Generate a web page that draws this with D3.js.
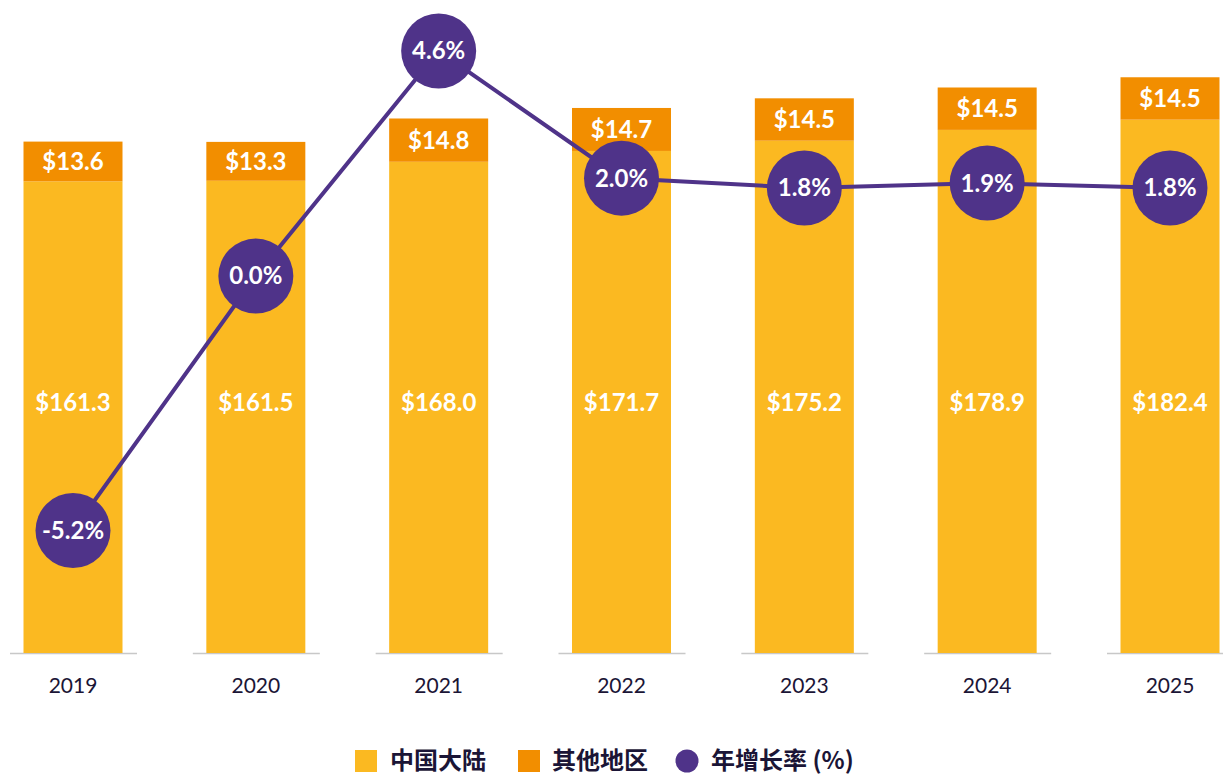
<!DOCTYPE html>
<html>
<head>
<meta charset="utf-8">
<script src="https://cdn.jsdelivr.net/npm/d3@7"></script>
<style>
  body { margin: 0; background: #fff; }
  svg { display: block; font-family: Lato, "Noto Sans", "Noto Sans CJK SC", sans-serif; }
</style>
</head>
<body>
<svg id="chart" width="1223" height="776"></svg>
<script>
// Data
const years = ['2019', '2020', '2021', '2022', '2023', '2024', '2025'];
const mainland = [161.3, 161.5, 168.0, 171.7, 175.2, 178.9, 182.4];
const others = [13.6, 13.3, 14.8, 14.7, 14.5, 14.5, 14.5];
const growth = [-5.2, 0.0, 4.6, 2.0, 1.8, 1.9, 1.8];
const legendLabels = ['中国大陆', '其他地区', '年增长率 (%)'];

const colors = { mainland: '#FBB921', others: '#F28E00', growth: '#4F3389', text: '#1B1536' };

const svg = d3.select('#chart');
const baseY = 653;

const x = d3.scalePoint().domain(years).range([73, 1170]);
const y = d3.scaleLinear().domain([0, 200]).range([baseY, baseY - 200 * 2.924]);
const yRate = d3.scaleLinear().domain([-5.2, 4.6]).range([530.5, 51]);

const barW = 99;

// axis segments
svg.append('g').selectAll('line')
  .data(years)
  .join('line')
  .attr('x1', d => x(d) - 63)
  .attr('x2', d => x(d) + 64)
  .attr('y1', baseY + 0.5)
  .attr('y2', baseY + 0.5)
  .attr('stroke', '#c8c8c8')
  .attr('stroke-width', 1.5);

const rows = years.map((yr, i) => ({ yr, a: mainland[i], b: others[i], g: growth[i] }));

// bars
svg.append('g').selectAll('rect')
  .data(rows)
  .join('rect')
  .attr('x', d => x(d.yr) - barW / 2)
  .attr('y', d => y(d.a))
  .attr('width', barW)
  .attr('height', d => y(0) - y(d.a))
  .attr('fill', colors.mainland);

svg.append('g').selectAll('rect')
  .data(rows)
  .join('rect')
  .attr('x', d => x(d.yr) - barW / 2)
  .attr('y', d => y(d.a + d.b))
  .attr('width', barW)
  .attr('height', d => y(d.a) - y(d.a + d.b))
  .attr('fill', colors.others);

// bar labels
svg.append('g').selectAll('text')
  .data(rows)
  .join('text')
  .attr('x', d => x(d.yr))
  .attr('y', y(85.5))
  .attr('dy', '0.35em')
  .attr('text-anchor', 'middle')
  .attr('fill', '#fff')
  .attr('font-size', 24)
  .attr('font-weight', 700)
  .text(d => '$' + d.a.toFixed(1));

svg.append('g').selectAll('text')
  .data(rows)
  .join('text')
  .attr('x', d => x(d.yr))
  .attr('y', d => (y(d.a) + y(d.a + d.b)) / 2)
  .attr('dy', '0.35em')
  .attr('text-anchor', 'middle')
  .attr('fill', '#fff')
  .attr('font-size', 24)
  .attr('font-weight', 700)
  .text(d => '$' + d.b.toFixed(1));

// growth line
const line = d3.line().x(d => x(d.yr)).y(d => yRate(d.g));
svg.append('path')
  .datum(rows)
  .attr('d', line)
  .attr('fill', 'none')
  .attr('stroke', colors.growth)
  .attr('stroke-width', 4);

svg.append('g').selectAll('circle')
  .data(rows)
  .join('circle')
  .attr('cx', d => x(d.yr))
  .attr('cy', d => yRate(d.g))
  .attr('r', 37.5)
  .attr('fill', colors.growth);

svg.append('g').selectAll('text')
  .data(rows)
  .join('text')
  .attr('x', d => x(d.yr))
  .attr('y', d => yRate(d.g))
  .attr('dy', '0.35em')
  .attr('text-anchor', 'middle')
  .attr('fill', '#fff')
  .attr('font-size', 24)
  .attr('font-weight', 700)
  .text(d => d.g.toFixed(1) + '%');

// year labels
svg.append('g').selectAll('text')
  .data(years)
  .join('text')
  .attr('x', d => x(d))
  .attr('y', 686)
  .attr('dy', '0.35em')
  .attr('text-anchor', 'middle')
  .attr('fill', colors.text)
  .attr('font-size', 21)
  .text(d => d);

// legend
const legY = 759;
const legend = svg.append('g')
  .attr('font-family', '"Noto Sans CJK SC", sans-serif')
  .attr('font-size', 24)
  .attr('font-weight', 700)
  .attr('fill', colors.text);
legend.append('rect').attr('x', 355).attr('y', legY - 9).attr('width', 22).attr('height', 22).attr('fill', colors.mainland);
legend.append('text').attr('x', 390).attr('y', legY).attr('dy', '0.4em').text(legendLabels[0]);
legend.append('rect').attr('x', 518).attr('y', legY - 9).attr('width', 22).attr('height', 22).attr('fill', colors.others);
legend.append('circle').attr('cx', 687).attr('cy', legY + 2).attr('r', 11.5).attr('fill', colors.growth);
legend.append('text').attr('x', 552).attr('y', legY).attr('dy', '0.4em').text(legendLabels[1]);
legend.append('text').attr('x', 711).attr('y', legY).attr('dy', '0.4em').text(legendLabels[2]);
</script>
</body>
</html>
